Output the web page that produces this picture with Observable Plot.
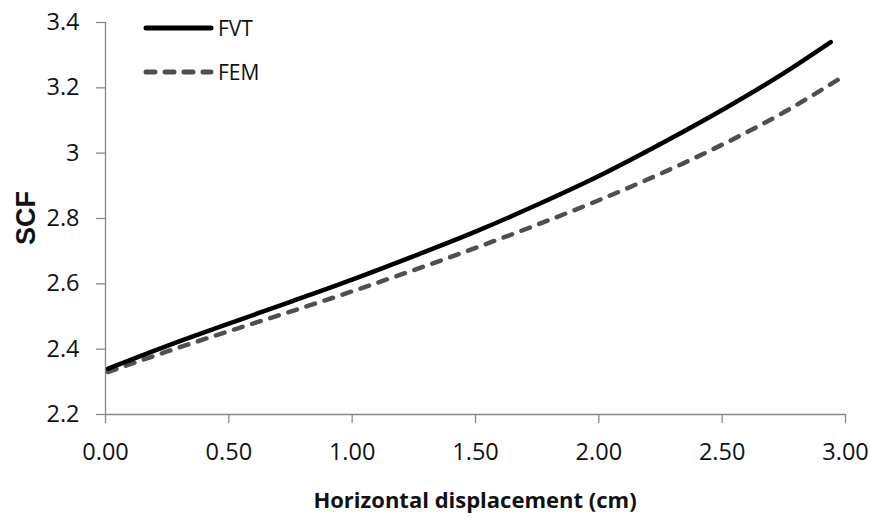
<!DOCTYPE html>
<html>
<head>
<meta charset="utf-8">
<script src="https://cdn.jsdelivr.net/npm/d3@7"></script>
<script src="https://cdn.jsdelivr.net/npm/@observablehq/plot@0.6"></script>
<style>
  html, body { margin: 0; padding: 0; background: #fff; }
  #chart { width: 871px; height: 522px; }
</style>
</head>
<body>
<div id="chart"></div>
<script>
// Data
const xFVT = [0.01, 0.25, 0.5, 0.75, 1.0, 1.25, 1.5, 1.75, 2.0, 2.25, 2.5, 2.75, 2.94];
const yFVT = [2.34, 2.41, 2.478, 2.545, 2.613, 2.685, 2.76, 2.842, 2.93, 3.028, 3.132, 3.245, 3.34];
const xFEM = [0.01, 0.25, 0.5, 0.75, 1.0, 1.25, 1.5, 1.75, 2.0, 2.25, 2.5, 2.75, 2.98];
const yFEM = [2.33, 2.393, 2.455, 2.515, 2.577, 2.642, 2.71, 2.781, 2.856, 2.937, 3.026, 3.125, 3.23];
const seriesNames = ["FVT", "FEM"];
const xTicks = [0, 0.5, 1.0, 1.5, 2.0, 2.5, 3.0];
const yTicks = [2.2, 2.4, 2.6, 2.8, 3.0, 3.2, 3.4];
const xLabel = "Horizontal displacement (cm)";
const yLabel = "SCF";

const fvt = xFVT.map((x, i) => ({x, y: yFVT[i]}));
const fem = xFEM.map((x, i) => ({x, y: yFEM[i]}));

const axisGray = "#888888";
const font = "'Open Sans', sans-serif";

const plot = Plot.plot({
  width: 871,
  height: 522,
  marginLeft: 105,
  marginRight: 26,
  marginTop: 22,
  marginBottom: 108,
  style: {fontFamily: font, background: "#fff", color: "#111"},
  x: {domain: [0, 3]},
  y: {domain: [2.2, 3.4]},
  marks: [
    Plot.ruleY([2.2], {stroke: axisGray, strokeWidth: 1.3}),
    Plot.ruleX([0], {stroke: axisGray, strokeWidth: 1.3}),
    Plot.axisX({ticks: xTicks, tickSize: 9, tickPadding: 20, stroke: axisGray, strokeWidth: 1.3,
      tickFormat: d => d.toFixed(2), fontSize: 23.5, label: null}),
    Plot.axisY({ticks: yTicks, tickSize: 9, tickPadding: 17, stroke: axisGray, strokeWidth: 1.3,
      tickFormat: d => String(+d.toFixed(1)), fontSize: 23.5, label: null}),
    Plot.line(fem, {x: "x", y: "y", curve: "monotone-x", stroke: "#4f4f4f", strokeWidth: 4.5,
      strokeDasharray: "9,10", strokeLinecap: "round"}),
    Plot.line(fvt, {x: "x", y: "y", curve: "monotone-x", stroke: "#000", strokeWidth: 4.5,
      strokeLinecap: "round"})
  ]
});

const svg = d3.select(plot);
// axis titles
svg.append("text")
  .attr("x", 475).attr("y", 508)
  .attr("text-anchor", "middle")
  .style("font-family", font).style("font-weight", "bold").style("font-size", "22px")
  .attr("fill", "#111")
  .text(xLabel);
svg.append("text")
  .attr("transform", "translate(35,218) rotate(-90)")
  .attr("text-anchor", "middle")
  .style("font-family", "'Liberation Sans', Arial, sans-serif").style("font-weight", "bold").style("font-size", "27px")
  .attr("fill", "#111")
  .text(yLabel);

// legend
const leg = [
  {name: seriesNames[0], stroke: "#000", dash: null, y: 28},
  {name: seriesNames[1], stroke: "#4f4f4f", dash: "9,10", y: 72}
];
const lg = svg.append("g").attr("text-anchor", "start");
leg.forEach(d => {
  lg.append("line").attr("x1", 146).attr("x2", 211).attr("y1", d.y).attr("y2", d.y)
    .attr("stroke", d.stroke).attr("stroke-width", 5).attr("stroke-linecap", "round")
    .attr("stroke-dasharray", d.dash);
  lg.append("text").attr("x", 218).attr("y", d.y).attr("dy", "0.36em")
    .attr("text-anchor", "start")
    .style("font-family", font).style("font-size", "21px").attr("fill", "#111")
    .text(d.name);
});

document.getElementById("chart").appendChild(plot);
</script>
</body>
</html>
